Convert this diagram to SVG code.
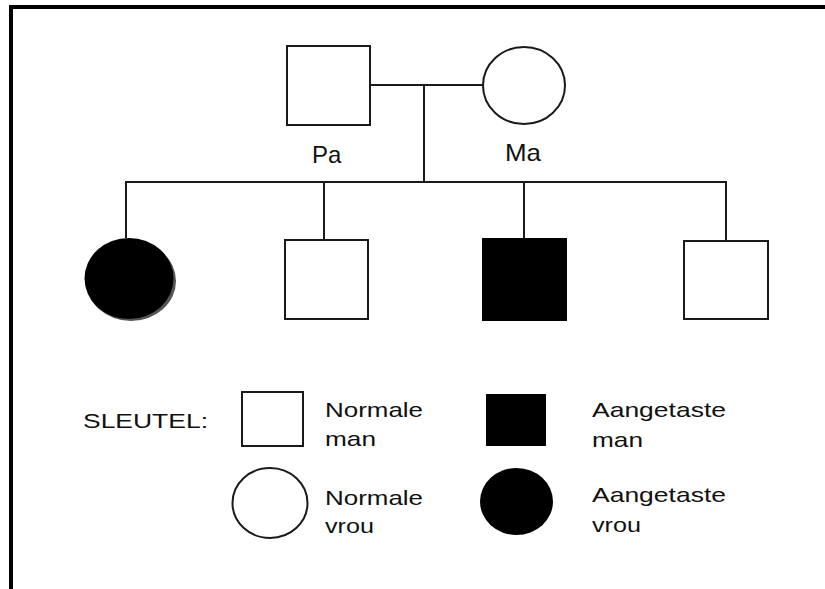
<svg xmlns="http://www.w3.org/2000/svg" width="825" height="589" viewBox="0 0 825 589">
<style>
.sh{fill:#fff;stroke:#1a1a1a;stroke-width:2}
.af{fill:#000;stroke:none}
.ln{stroke:#1a1a1a;stroke-width:2;fill:none}
.lbl{font-family:"Liberation Sans",Arial,sans-serif;font-size:24px;fill:#111}
.key{font-family:"Liberation Sans",Arial,sans-serif;font-size:21px;fill:#111}
</style>
<rect width="825" height="589" fill="#fff"/>
<g id="frame">
<line x1="9" y1="7" x2="825" y2="7" stroke="#000" stroke-width="4"/>
<line x1="11" y1="5" x2="11" y2="589" stroke="#000" stroke-width="4"/>
</g>
<g id="connectors">
<line class="ln" x1="370" y1="85" x2="483" y2="85"/>
<line class="ln" x1="424" y1="85" x2="424" y2="182"/>
<line class="ln" x1="125" y1="182" x2="727" y2="182"/>
<line class="ln" x1="126" y1="181" x2="126" y2="238"/>
<line class="ln" x1="324" y1="181" x2="324" y2="240"/>
<line class="ln" x1="524" y1="181" x2="524" y2="238"/>
<line class="ln" x1="726" y1="181" x2="726" y2="241"/>
</g>
<g id="pa">
<rect class="sh" x="287" y="46" width="83" height="79"/>
<text class="lbl" x="312" y="163">Pa</text>
</g>
<g id="ma">
<ellipse class="sh" cx="524" cy="85.5" rx="41" ry="38.5"/>
<text class="lbl" x="505" y="161" textLength="36" lengthAdjust="spacingAndGlyphs">Ma</text>
</g>
<g id="child1">
<ellipse cx="131" cy="281" rx="45" ry="40" fill="#555"/>
<ellipse class="af" cx="129" cy="278.5" rx="44.5" ry="40.5"/>
</g>
<g id="child2">
<rect class="sh" x="285" y="240" width="83" height="79"/>
</g>
<g id="child3">
<rect class="af" x="482" y="238" width="85" height="83"/>
</g>
<g id="child4">
<rect class="sh" x="684" y="241" width="84" height="78"/>
</g>
<g id="key">
<text class="key" x="83" y="428" textLength="125" lengthAdjust="spacingAndGlyphs">SLEUTEL:</text>
<rect class="sh" x="242" y="392" width="61" height="54"/>
<text class="key" x="325" y="417" textLength="98" lengthAdjust="spacingAndGlyphs">Normale</text>
<text class="key" x="325" y="446" textLength="51" lengthAdjust="spacingAndGlyphs">man</text>
<rect class="af" x="486" y="394" width="60" height="52"/>
<text class="key" x="592" y="417" textLength="134" lengthAdjust="spacingAndGlyphs">Aangetaste</text>
<text class="key" x="592" y="447" textLength="51" lengthAdjust="spacingAndGlyphs">man</text>
<ellipse class="sh" cx="270" cy="503" rx="37.5" ry="35"/>
<text class="key" x="325" y="505" textLength="98" lengthAdjust="spacingAndGlyphs">Normale</text>
<text class="key" x="325" y="533" textLength="49" lengthAdjust="spacingAndGlyphs">vrou</text>
<ellipse class="af" cx="516.5" cy="501.5" rx="36.5" ry="33.5"/>
<text class="key" x="592" y="502" textLength="134" lengthAdjust="spacingAndGlyphs">Aangetaste</text>
<text class="key" x="592" y="532" textLength="49" lengthAdjust="spacingAndGlyphs">vrou</text>
</g>
</svg>
